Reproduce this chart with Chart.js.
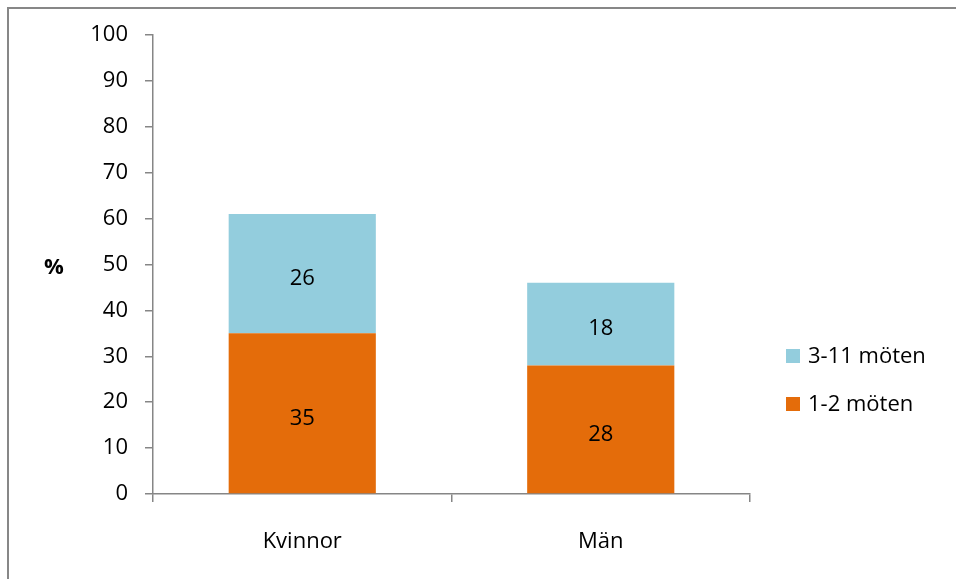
<!DOCTYPE html>
<html>
<head>
<meta charset="utf-8">
<script src="https://cdn.jsdelivr.net/npm/chart.js@4/dist/chart.umd.min.js"></script>
<style>
  html, body { margin: 0; padding: 0; background: #fff; overflow: hidden; }
  #wrap { position: relative; width: 956px; height: 579px; }
  #frame {
    position: absolute; left: 7px; top: 7px; width: 1000px; height: 1000px;
    border-left: 2px solid #878787; border-top: 2px solid #878787;
    pointer-events: none;
  }
</style>
</head>
<body>
<div id="wrap">
  <canvas id="myChart" width="956" height="579"></canvas>
  <div id="frame"></div>
</div>
<script>
const categories = ["Kvinnor", "Män"];
const seriesNames = ["1-2 möten", "3-11 möten"];
const lowValues = [35, 28];   // 1-2 möten
const highValues = [26, 18];  // 3-11 möten
const yTicks = [0, 10, 20, 30, 40, 50, 60, 70, 80, 90, 100];

const FONT = "'Open Sans', sans-serif";
const axisGray = "#868686";
const colors = ["#E46C0A", "#93CDDD"];

// value labels inside each stacked segment
const barLabels = {
  id: "barLabels",
  afterDatasetsDraw(chart) {
    const ctx = chart.ctx;
    ctx.save();
    ctx.font = "22px " + FONT;
    ctx.fillStyle = "#000";
    ctx.textAlign = "center";
    ctx.textBaseline = "middle";
    chart.data.datasets.forEach((ds, i) => {
      chart.getDatasetMeta(i).data.forEach((bar, j) => {
        const mid = (bar.y + bar.base) / 2;
        ctx.fillText(ds.data[j], bar.x, mid + 5);
      });
    });
    ctx.restore();
  }
};

// "%" axis title (horizontal) and legend on the right
const extras = {
  id: "extras",
  afterDraw(chart) {
    const ctx = chart.ctx;
    const a = chart.chartArea;
    ctx.save();
    ctx.fillStyle = "#000";
    ctx.font = "bold 22px " + FONT;
    ctx.textAlign = "center";
    ctx.textBaseline = "middle";
    ctx.fillText("%", a.left - 99, (a.top + a.bottom) / 2 + 3);

    // legend, reversed order like Excel
    ctx.font = "22px " + FONT;
    ctx.textAlign = "left";
    const items = chart.data.datasets.slice().reverse();
    items.forEach((ds, k) => {
      const cy = a.top + 321 + k * 48;
      ctx.fillStyle = ds.backgroundColor;
      ctx.fillRect(a.right + 36, cy - 7, 14, 14);
      ctx.fillStyle = "#000";
      ctx.fillText(ds.label, a.right + 58, cy + 1);
    });
    ctx.restore();
  }
};

const ctx = document.getElementById("myChart").getContext("2d");
const myChart = new Chart(ctx, {
  type: "bar",
  data: {
    labels: categories,
    datasets: [
      { label: seriesNames[0], data: lowValues, backgroundColor: colors[0] },
      { label: seriesNames[1], data: highValues, backgroundColor: colors[1] }
    ]
  },
  options: {
    responsive: false,
    animation: false,
    layout: { padding: { top: 35, right: 206, left: 0, bottom: 0 } },
    plugins: { legend: { display: false }, tooltip: { enabled: false } },
    datasets: { bar: { barPercentage: 0.493, categoryPercentage: 1 } },
    scales: {
      x: {
        stacked: true,
        grid: { drawOnChartArea: false, tickLength: 8, color: axisGray, lineWidth: 1.5 },
        border: { color: axisGray, width: 1.5 },
        ticks: { color: "#000", font: { family: FONT, size: 22 }, padding: 27 },
        afterFit(scale) { scale.height = 579 - 494; }
      },
      y: {
        stacked: true,
        min: 0,
        max: 100,
        afterBuildTicks(scale) { scale.ticks = yTicks.map(v => ({ value: v })); },
        grid: { drawOnChartArea: false, tickLength: 8, color: axisGray, lineWidth: 1.5 },
        border: { color: axisGray, width: 1.5 },
        ticks: { color: "#000", font: { family: FONT, size: 22 }, padding: 17 },
        afterFit(scale) { scale.width = 153; }
      }
    }
  },
  plugins: [barLabels, extras]
});
</script>
</body>
</html>
